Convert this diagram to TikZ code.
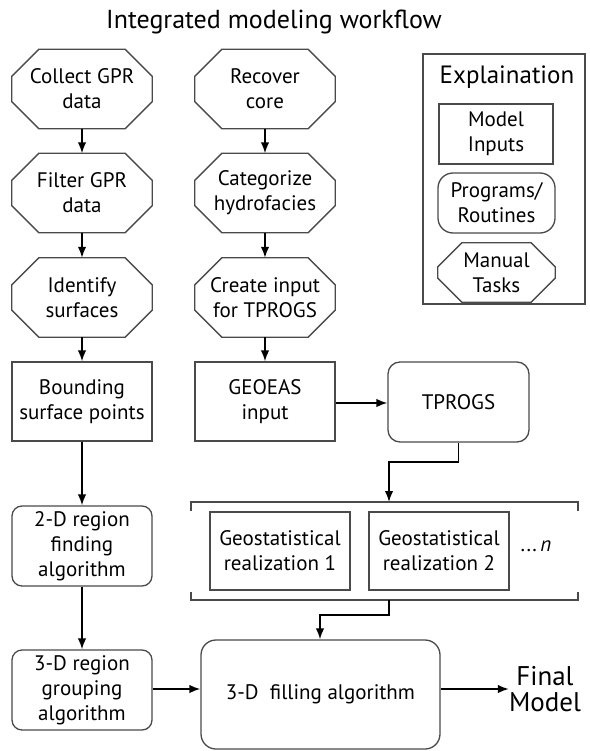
\documentclass[tikz,border=0pt]{standalone}
\usepackage{fontspec}
\setmainfont{PT Sans}
\usetikzlibrary{arrows.meta,calc}
\definecolor{boxgray}{HTML}{4A4A4A}
\newcommand\octo[3]{\draw[boxline] ($(#1.north west)+(#2,0)$) -- ($(#1.north east)+(-#2,0)$) -- ($(#1.north east)+(0,#3)$) -- ($(#1.south east)+(0,-#3)$) -- ($(#1.south east)+(-#2,0)$) -- ($(#1.south west)+(#2,0)$) -- ($(#1.south west)+(0,-#3)$) -- ($(#1.north west)+(0,#3)$) -- cycle;}
\begin{document}
\begin{tikzpicture}[x=1pt,y=-1pt,
  boxline/.style={draw=boxgray, line width=1.3pt, line join=miter},
  txt/.style={align=center, font=\fontsize{21}{25}\selectfont, inner sep=0pt},
  octbox/.style={txt, minimum width=140pt, minimum height=79pt},
  inbox/.style={txt, boxline, rectangle, minimum width=140pt, minimum height=79pt},
  progbox/.style={txt, boxline, rounded corners=10pt, minimum width=140pt, minimum height=80pt},
  arr/.style={line width=1.7pt, -{Latex[length=11pt,width=8.5pt]}},
  bracket/.style={boxgray, line width=1.3pt}
]
\useasboundingbox (0,0) rectangle (589,751);
\node[font=\fontsize{26}{30}\selectfont, inner sep=0pt] (title) at (274,22) {Integrated modeling workflow};

% left column
\node[octbox] (c1) at (82,89) {Collect GPR\\data};
\node[octbox] (c2) at (82,193) {Filter GPR\\data};
\node[octbox] (c3) at (82,297.5) {Identify\\surfaces};
\octo{c1}{27}{27}\octo{c2}{27}{27}\octo{c3}{27}{27}
\node[inbox] (c4) at (82,401.5) {Bounding\\surface points};
\node[progbox] (c5) at (82,546) {2-D region\\finding\\algorithm};
\node[progbox] (c6) at (82,690) {3-D region\\grouping\\algorithm};

% right column
\node[octbox] (r1) at (265,89) {Recover\\core};
\node[octbox] (r2) at (265,193) {Categorize\\hydrofacies};
\node[octbox] (r3) at (265,297.5) {Create input\\for TPROGS};
\octo{r1}{27}{27}\octo{r2}{27}{27}\octo{r3}{27}{27}
\node[inbox] (r4) at (265,401.5) {GEOEAS\\input};
\node[progbox, rounded corners=12pt, minimum width=141pt] (tp) at (458.5,402) {TPROGS};

% realizations
\node[inbox, minimum height=78pt] (g1) at (280,551) {Geostatistical\\realization 1};
\node[inbox, minimum height=78pt] (g2) at (439,551) {Geostatistical\\realization 2};
\node[txt] (gn) at (536,546) {...\,\textit{n}};
\draw[bracket] (191,511) -- (191,502) -- (578,502) -- (578,511);
\draw[bracket] (191,592) -- (191,600) -- (578,600) -- (578,592);
\coordinate (bt) at (389,502);
\coordinate (bb) at (389,600);

% filling
\node[txt, boxline, rounded corners=15pt, minimum width=239pt, minimum height=109pt] (fill) at (320.5,694.5) {\raisebox{5pt}{3-D\ \ filling algorithm}};
\node[align=center, font=\fontsize{27}{26}\selectfont, inner sep=0pt] (final) at (545,689) {Final\\Model};

% legend
\draw[boxline] (423,54) rectangle (585,304);
\node[font=\fontsize{25}{28}\selectfont, inner sep=0pt] (ltitle) at (507,77) {Explaination};
\node[inbox, minimum width=114pt, minimum height=60pt] (lm) at (496,134) {Model\\Inputs};
\node[progbox, rounded corners=15pt, minimum width=117pt, minimum height=60pt] (lp) at (496.5,203) {Programs/\\Routines};
\node[octbox, minimum width=117pt, minimum height=59pt] (lt) at (496.5,272.5) {Manual\\Tasks};
\octo{lt}{24}{24}

% connectors
\draw[arr] (c1) -- (c2);
\draw[arr] (c2) -- (c3);
\draw[arr] (c3) -- (c4);
\draw[arr] (c4) -- (c5);
\draw[arr] (c5) -- (c6);
\draw[arr] (r1) -- (r2);
\draw[arr] (r2) -- (r3);
\draw[arr] (r3) -- (r4);
\draw[arr] (r4.east |- 0,403) -- (tp.west |- 0,403);
\draw[arr] (tp.south) -- ++(0,19) -| (bt);
\draw[arr] (bb) -- ++(0,15) -| (fill.north -| 320,0);
\draw[arr] (c6.east |- 0,689) -- (fill.west |- 0,689);
\draw[arr] (fill.east |- 0,689) -- (final.west |- 0,689);
\end{tikzpicture}
\end{document}
